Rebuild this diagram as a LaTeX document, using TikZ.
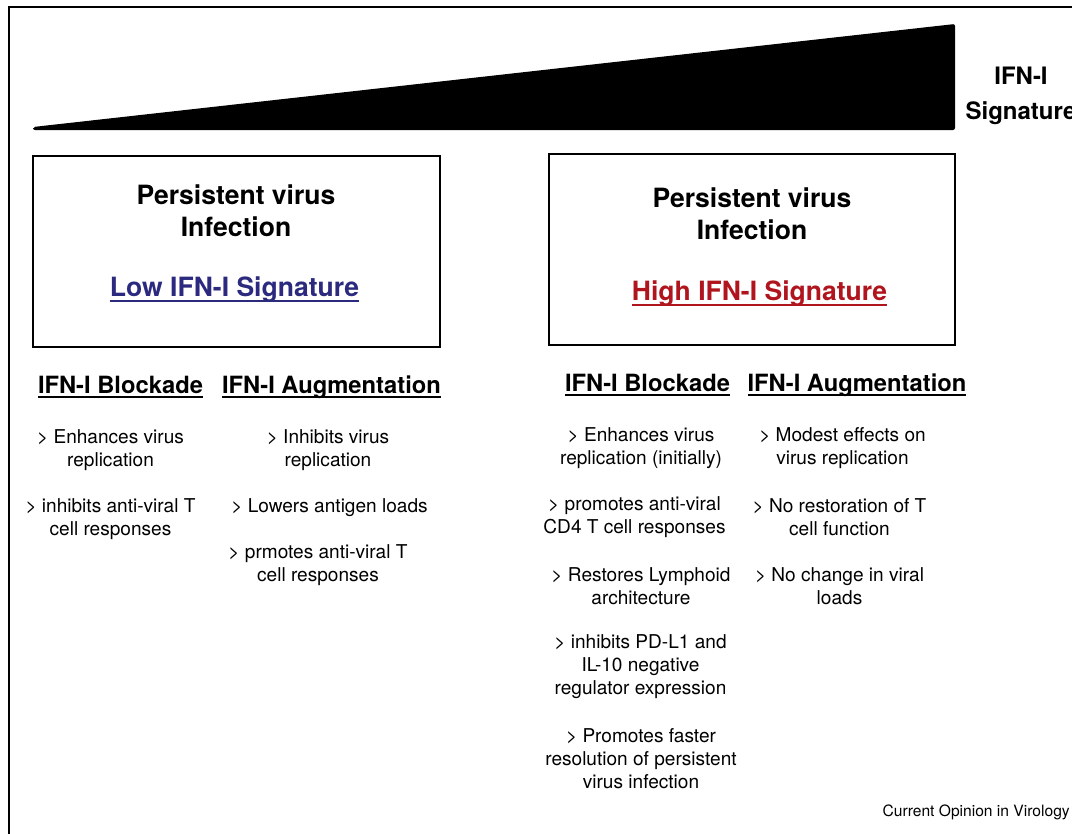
\documentclass[tikz,border=0pt]{standalone}
\usepackage{fontspec}
\setmainfont{TeX Gyre Heros}
\definecolor{lowblue}{HTML}{2B2A7F}
\definecolor{highred}{HTML}{B0151E}
\newcommand{\ulined}[1]{\setbox0\hbox{#1}\rlap{\rule[-0.21em]{\wd0}{0.075em}}\box0}
\begin{document}
\begin{tikzpicture}[
    x=0.75pt, y=-0.75pt,
    sigbox/.style={draw,line width=1.3pt,minimum width=305pt,minimum height=143pt,inner sep=0pt},
    title/.style={align=center,font=\fontsize{19.9}{24}\selectfont\bfseries,inner sep=0pt},
    siglabel/.style={anchor=base,font=\fontsize{19.9}{24}\selectfont\bfseries,inner sep=0pt},
    head/.style={anchor=base,font=\fontsize{17.8}{21}\selectfont\bfseries,inner sep=0pt},
    item/.style={align=center,font=\fontsize{14.3}{17.25}\selectfont,inner sep=0pt}
]
\useasboundingbox (0,0) rectangle (1072,833);
\clip (0,0) rectangle (1072,833);
% frame and wedge
\draw[line width=1pt] (9,7) rectangle (1100,860);
\fill[rounded corners=1.5pt] (33,127) -- (955,24) -- (955,130) -- (33,130) -- cycle;
\node[align=center,font=\fontsize{18}{26.25}\selectfont\bfseries,inner sep=0pt] (scale) at (1021,95.5) {IFN-I\\Signature};

% low signature side
\node[sigbox] (lowbox) at (236.5,251.5) {};
\node[title] (lowtitle) at (236,211) {Persistent virus\\Infection};
\node[siglabel,text=lowblue] (lowlabel) at (234.5,296) {\ulined{Low IFN-I Signature}};
\node[head] (lowblock) at (120.5,393) {\ulined{IFN-I Blockade}};
\node[head] (lowaug) at (331.5,393) {\ulined{IFN-I Augmentation}};
\node[item] (lb1) at (110.5,450) {> Enhances virus\\replication};
\node[item] (lb2) at (110.5,519) {> inhibits anti-viral T\\cell responses};
\node[item] (la1) at (328,450) {> Inhibits virus\\replication};
\node[item] (la2) at (329.5,508) {> Lowers antigen loads};
\node[item] (la3) at (318,565) {> prmotes anti-viral T\\cell responses};

% high signature side
\node[sigbox] (highbox) at (752,249.5) {};
\node[title] (hightitle) at (752,214) {Persistent virus\\Infection};
\node[siglabel,text=highred] (highlabel) at (759.5,300) {\ulined{High IFN-I Signature}};
\node[head] (highblock) at (647.5,391) {\ulined{IFN-I Blockade}};
\node[head] (highaug) at (857,391) {\ulined{IFN-I Augmentation}};
\node[item] (hb1) at (641,448) {> Enhances virus\\replication (initially)};
\node[item] (hb2) at (634.5,517) {> promotes anti-viral\\CD4 T cell responses};
\node[item] (hb3) at (641,586) {> Restores Lymphoid\\architecture};
\node[item] (hb4) at (640.5,666.5) {> inhibits PD-L1 and\\IL-10 negative\\regulator expression};
\node[item] (hb5) at (641,758.5) {> Promotes faster\\resolution of persistent\\virus infection};
\node[item] (ha1) at (842.5,448) {> Modest effects on\\virus replication};
\node[item] (ha2) at (839.5,517) {> No restoration of T\\cell function};
\node[item] (ha3) at (839.5,586) {> No change in viral\\loads};

\node[anchor=east,font=\fontsize{11.7}{14}\selectfont,inner sep=0pt] (journal) at (1070,812) {Current Opinion in Virology};
\end{tikzpicture}
\end{document}
